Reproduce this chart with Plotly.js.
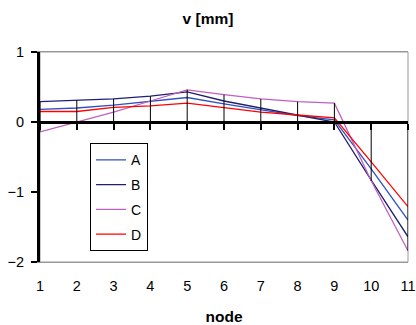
<!DOCTYPE html>
<html>
<head>
<meta charset="utf-8">
<script src="https://cdn.plot.ly/plotly-3.0.1.min.js"></script>
<style>html,body{margin:0;padding:0;background:#fff;}#chart{width:416px;height:325px;}</style>
</head>
<body>
<div id="chart"></div>
<script>
var nodes = [1,2,3,4,5,6,7,8,9,10,11];
var seriesA = [0.18,0.20,0.24,0.29,0.35,0.26,0.18,0.09,0.03,-0.67,-1.40];
var seriesB = [0.29,0.31,0.33,0.37,0.43,0.30,0.20,0.10,0.00,-0.83,-1.64];
var seriesC = [-0.14,0.00,0.14,0.30,0.46,0.39,0.33,0.29,0.27,-0.84,-1.84];
var seriesD = [0.15,0.15,0.21,0.23,0.27,0.20,0.14,0.10,0.06,-0.57,-1.21];
var seriesNames = ['A','B','C','D'];
var seriesColors = ['#3050c0','#202070','#c060c0','#ff0000'];
var allSeries = [seriesA, seriesB, seriesC, seriesD];

// drop lines: from the category axis (0) to the farthest point at each node
var dropX = [], dropY = [];
nodes.forEach(function(n, i){
  var vals = allSeries.map(function(s){return s[i];});
  var hi = Math.max(0, Math.max.apply(null, vals));
  var lo = Math.min(0, Math.min.apply(null, vals));
  dropX.push(n, n, null);
  dropY.push(lo, hi, null);
});

var traces = [{
  x: dropX, y: dropY, mode: 'lines', xaxis: 'x2', yaxis: 'y',
  line: {color: '#000', width: 1}, showlegend: false, hoverinfo: 'skip'
}];
allSeries.forEach(function(s, k){
  traces.push({
    x: nodes, y: s, name: seriesNames[k], mode: 'lines',
    line: {color: seriesColors[k], width: 1.3},
    legendgroup: seriesNames[k]
  });
});

var fam = 'Liberation Sans, Arial, sans-serif';
var layout = {
  width: 416, height: 325,
  margin: {l: 40, r: 8, t: 52, b: 63},
  paper_bgcolor: '#fff', plot_bgcolor: '#fff',
  font: {family: fam, size: 14, color: '#000'},
  showlegend: true,
  title: {text: '<b>v [mm]</b>', x: 0.5, xref: 'container', xanchor: 'center',
          y: 1 - 19/325, yref: 'container', yanchor: 'middle',
          font: {family: fam, size: 15.5, color: '#000'}},
  xaxis: {
    range: [1, 11], dtick: 1, tick0: 1, showgrid: false, zeroline: false,
    showline: true, linecolor: '#999', linewidth: 1, mirror: true,
    ticks: '', ticklabelstandoff: 11,
    tickfont: {family: fam, size: 14.5, color: '#000'},
    title: {text: '<b>node</b>', standoff: 18, font: {family: fam, size: 15.5, color: '#000'}}
  },
  xaxis2: {
    range: [1, 11], dtick: 1, tick0: 1, overlaying: 'x', anchor: 'free', position: 2/3,
    side: 'bottom', showgrid: false, zeroline: false,
    showline: true, linecolor: '#000', linewidth: 3,
    ticks: 'outside', ticklen: 6, tickwidth: 2, tickcolor: '#000',
    showticklabels: false
  },
  yaxis: {
    range: [-2, 1], dtick: 1, tick0: 0, showgrid: false, zeroline: false,
    showline: true, linecolor: '#000', linewidth: 3,
    ticks: 'outside', ticklen: 6, tickwidth: 2, tickcolor: '#000',
    ticklabelstandoff: 4,
    tickfont: {family: fam, size: 14.5, color: '#000'}
  },
  shapes: [{type: 'rect', xref: 'paper', yref: 'paper', x0: 0, x1: 1, y0: 0, y1: 1,
            line: {color: '#999', width: 1}, layer: 'below'}],
  legend: {
    x: 0.136, y: 0.565, xanchor: 'left', yanchor: 'top',
    bgcolor: '#fff', bordercolor: '#000', borderwidth: 1,
    font: {family: fam, size: 14, color: '#000'},
    traceorder: 'grouped', tracegroupgap: 3.5
  }
};

Plotly.newPlot('chart', traces, layout, {displayModeBar: false, staticPlot: true});
</script>
</body>
</html>
